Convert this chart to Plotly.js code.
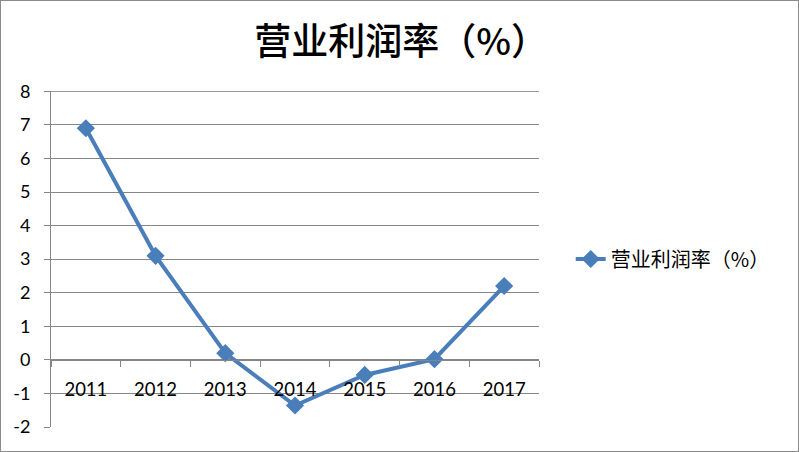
<!DOCTYPE html>
<html><head><meta charset="utf-8">
<script src="https://cdn.plot.ly/plotly-3.0.1.min.js"></script>
<style>html,body{margin:0;padding:0;background:#fff;}#chart{width:797px;height:450px;border:1px solid #8c8c8c;}</style>
</head><body><div id="chart"></div>
<script>
const years = ['2011','2012','2013','2014','2015','2016','2017'];
const margin = [6.9, 3.1, 0.2, -1.36, -0.45, 0.02, 2.2];
const yTickVals = [-2, -1, 0, 1, 2, 3, 4, 5, 6, 7, 8];
const yTickText = ['-2', '-1', '0', '1', '2', '3', '4', '5', '6', '7', '8'];
const seriesName = '营业利润率（%）';
const titleText = '营业利润率（%）';

const trace = {
  x: years, y: margin, type: 'scatter', mode: 'lines+markers', name: seriesName,
  line: {color: '#4A7EBB', width: 4},
  marker: {symbol: 'diamond', size: 14, color: '#4A7EBB'}
};
const topVal = yTickVals[yTickVals.length - 1];
const layout = {
  width: 797, height: 450,
  margin: {l: 50, r: 259, t: 90, b: 24},
  paper_bgcolor: '#fff', plot_bgcolor: '#fff',
  title: {text: titleText, x: 0.502, xanchor: 'center', y: 0.908, yanchor: 'middle',
          font: {family: 'Noto Sans CJK SC, sans-serif', size: 37, color: '#000', weight: 500}},
  xaxis: {type: 'category', anchor: 'free', position: 0.2, showgrid: false,
          showline: true, linecolor: '#868686', linewidth: 1,
          ticks: 'outside', ticklen: 6, tickcolor: '#868686', tickson: 'boundaries',
          ticklabelstandoff: 13,
          tickfont: {family: 'Lato, Carlito, sans-serif', size: 18.5, color: '#000'},
          range: [-0.5, 6.5], fixedrange: true},
  yaxis: {range: [-2, 8.01], tickmode: 'array', tickvals: yTickVals, ticktext: yTickText,
          showgrid: true, gridcolor: '#868686', gridwidth: 1,
          showline: true, linecolor: '#868686', linewidth: 1, zeroline: false,
          ticks: 'outside', ticklen: 6, tickcolor: '#868686', ticklabelstandoff: 10,
          tickfont: {family: 'Lato, Carlito, sans-serif', size: 18, color: '#000'}},
  shapes: [{type: 'line', xref: 'paper', x0: 0, x1: 1, yref: 'y', y0: topVal, y1: topVal,
            line: {color: '#868686', width: 1}, layer: 'below'}],
  showlegend: true,
  legend: {x: 1.065, xanchor: 'left', y: 0.5, yanchor: 'middle', bgcolor: 'rgba(0,0,0,0)',
           font: {family: 'Noto Sans CJK SC, sans-serif', size: 20, color: '#000'}}
};
Plotly.newPlot('chart', [trace], layout, {displayModeBar: false, staticPlot: true});
</script></body></html>
